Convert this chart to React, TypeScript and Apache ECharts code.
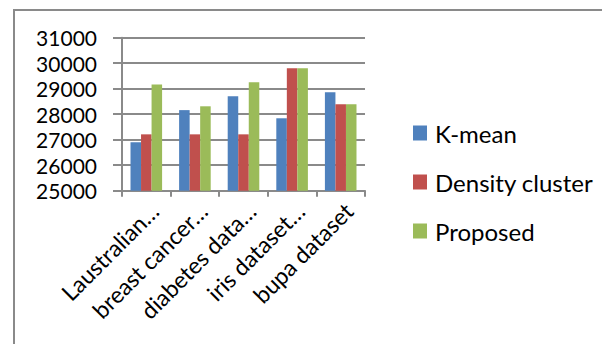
import React, { useEffect, useRef } from "react";
import * as echarts from "echarts";

const categories = ["Laustralian…", "breast cancer…", "diabetes data…", "iris dataset…", "bupa dataset"];
const seriesNames = ["K-mean", "Density cluster", "Proposed"];
const kMean = [26900, 28160, 28700, 27840, 28860];
const densityCluster = [27210, 27210, 27210, 29800, 28390];
const proposed = [29160, 28310, 29250, 29800, 28390];
const colors = ["#4F81BD", "#C0504D", "#9BBB59"];

const FONT = "Lato, 'Open Sans', sans-serif";
const GRAY = "#8a8a8a";

export default function App() {
  const ref = useRef<HTMLDivElement>(null);
  useEffect(() => {
    if (!ref.current) return;
    const chart = echarts.init(ref.current, null, { renderer: "svg" });
    const values = [kMean, densityCluster, proposed];
    chart.setOption({
      animation: false,
      backgroundColor: "#ffffff",
      textStyle: { fontFamily: FONT },
      graphic: [
        {
          type: "rect",
          shape: { x: 14, y: 10, width: 600, height: 340 },
          style: { fill: "none", stroke: GRAY, lineWidth: 2 },
          silent: true,
        },
      ],
      legend: {
        orient: "vertical",
        left: 408,
        top: 116,
        itemWidth: 14,
        itemHeight: 15,
        itemGap: 25,
        icon: "rect",
        textStyle: { fontFamily: FONT, fontSize: 24, lineHeight: 23, color: "#000", padding: [0, 0, 0, 3] },
        data: seriesNames,
      },
      grid: { left: 122, right: 237, top: 37.7, bottom: 153.3 },
      xAxis: {
        type: "category",
        data: categories,
        axisLine: { show: true, lineStyle: { color: GRAY, width: 2 } },
        axisTick: { show: true, length: 6, lineStyle: { color: GRAY, width: 2 } },
        axisLabel: {
          interval: 0,
          rotate: 45,
          align: "right",
          verticalAlign: "top",
          margin: 8,
          fontFamily: FONT,
          fontSize: 23,
          lineHeight: 23,
          color: "#000",
        },
      },
      yAxis: {
        type: "value",
        min: 25000,
        max: 31000,
        interval: 1000,
        axisLine: { show: true, lineStyle: { color: GRAY, width: 2 } },
        axisTick: { show: true, length: 9, lineStyle: { color: GRAY, width: 2 } },
        splitLine: { show: true, lineStyle: { color: GRAY, width: 2 } },
        axisLabel: {
          margin: 25,
          fontFamily: FONT,
          fontSize: 21,
          lineHeight: 21,
          color: "#000",
          formatter: (v: number) => String(v),
        },
      },
      series: seriesNames.map((name, i) => ({
        name,
        type: "bar",
        data: values[i],
        itemStyle: { color: colors[i] },
        barGap: "0%",
        barCategoryGap: "35%",
      })),
    });
    return () => chart.dispose();
  }, []);
  return (
    <div
      ref={ref}
      style={{ position: "fixed", left: 0, top: 0, width: 602, height: 344, background: "#fff" }}
    />
  );
}
